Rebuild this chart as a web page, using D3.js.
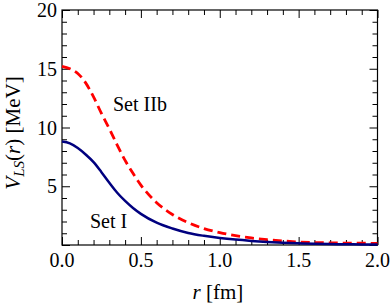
<!DOCTYPE html>
<html><head><meta charset="utf-8">
<script src="https://cdn.jsdelivr.net/npm/d3@7"></script>
<style>
body{margin:0;background:#fff}
svg{display:block;font-family:"Liberation Serif","Times New Roman",serif !important}
svg text, svg tspan{font-family:"Liberation Serif","Times New Roman",serif !important}
</style>
</head><body>
<svg id="chart" width="390" height="306" style="font-family:'Liberation Serif',serif"></svg>
<script>
const rSetI = [0,0.05,0.1,0.15,0.2,0.25,0.3,0.35,0.4,0.45,0.5,0.6,0.7,0.8,0.9,1.0,1.1,1.2,1.3,1.4,1.5,1.6,1.7,1.8,1.9,2.0];
const vSetI = [8.8,8.65,8.25,7.7,7.05,6.2,5.3,4.45,3.75,3.15,2.65,1.9,1.4,1.02,0.78,0.6,0.46,0.35,0.26,0.19,0.14,0.1,0.08,0.06,0.05,0.04];
const rSetIIb = [0,0.05,0.1,0.15,0.2,0.25,0.3,0.35,0.4,0.45,0.5,0.6,0.7,0.8,0.9,1.0,1.1,1.2,1.3,1.4,1.5,1.6,1.7,1.8,1.9,2.0];
const vSetIIb = [15.2,15.0,14.6,13.8,12.6,11.2,9.9,8.5,7.2,6.1,5.1,3.6,2.6,1.9,1.4,1.05,0.8,0.6,0.45,0.34,0.26,0.21,0.18,0.16,0.15,0.14];
const xTickLabels = ["0.0","0.5","1.0","1.5","2.0"];
const yTickLabels = ["5","10","15","20"];

const FONT = "Liberation Serif";
const W=390,H=306, L=62, T=10, R=377.5, B=245;
const svg=d3.select("#chart");
const x=d3.scaleLinear().domain([0,2]).range([L,R]);
const y=d3.scaleLinear().domain([0,20]).range([B,T]);

const minorX=d3.range(0,2.0001,0.1).map(v=>+v.toFixed(1));
const minorY=d3.range(0,20.0001,1);
function ticks(g, axisFn, scale, vals, len){
  g.call(axisFn(scale).tickValues(vals).tickSize(-len).tickFormat(""));
  g.attr("font-family",null).attr("font-size",null);
  g.select(".domain").remove();
  g.selectAll("text").remove();
  g.selectAll("line").attr("stroke","#000").attr("stroke-width",1);
}
const xMajor=xTickLabels.map(Number), yMajor=[0,5,10,15,20];
const mX=minorX.filter(v=>!xMajor.some(m=>Math.abs(m-v)<1e-6));
const mY=minorY.filter(v=>!yMajor.includes(v));
[[d3.axisBottom,x,`translate(0,${B})`],[d3.axisTop,x,`translate(0,${T})`]].forEach(([f,s,t])=>{
  ticks(svg.append("g").attr("transform",t),f,s,mX,5);
  ticks(svg.append("g").attr("transform",t),f,s,xMajor,8);
});
[[d3.axisLeft,y,`translate(${L},0)`],[d3.axisRight,y,`translate(${R},0)`]].forEach(([f,s,t])=>{
  ticks(svg.append("g").attr("transform",t),f,s,mY,5);
  ticks(svg.append("g").attr("transform",t),f,s,yMajor,8);
});
svg.append("rect").attr("x",L).attr("y",T).attr("width",R-L).attr("height",B-T)
  .attr("fill","none").attr("stroke","#000").attr("stroke-width",1.2);

const txt = sel => sel.attr("font-family",FONT).attr("fill","#000");
svg.append("g").selectAll("text").data(xTickLabels).join("text").call(txt)
  .attr("x",d=>x(+d)).attr("y",267).attr("text-anchor","middle").attr("font-size",20).text(d=>d);
svg.append("g").selectAll("text").data(yTickLabels).join("text").call(txt)
  .attr("x",57).attr("y",d=>y(+d)+7).attr("text-anchor","end").attr("font-size",20).text(d=>d);

const line=d3.line().x(d=>x(d[0])).y(d=>y(d[1])).curve(d3.curveMonotoneX);
svg.append("path").datum(rSetIIb.map((r,i)=>[r,vSetIIb[i]])).attr("d",line)
  .attr("fill","none").attr("stroke","#ff0000").attr("stroke-width",2.8).attr("stroke-dasharray","9,5");
svg.append("path").datum(rSetI.map((r,i)=>[r,vSetI[i]])).attr("d",line)
  .attr("fill","none").attr("stroke","#00007f").attr("stroke-width",2.5);

svg.append("text").call(txt).attr("x",113).attr("y",111).attr("font-size",20).text("Set IIb");
svg.append("text").call(txt).attr("x",90).attr("y",228).attr("font-size",20).text("Set I");

const xt=svg.append("text").call(txt).attr("x",218).attr("y",299).attr("text-anchor","middle").attr("font-size",21);
xt.append("tspan").attr("font-style","italic").text("r");
xt.append("tspan").text(" [fm]");
const yt=svg.append("text").call(txt).attr("transform","translate(20,133) rotate(-90)").attr("text-anchor","middle").attr("font-size",21);
yt.append("tspan").attr("font-style","italic").text("V");
yt.append("tspan").attr("font-style","italic").attr("font-size",15).attr("dy",4).text("LS");
yt.append("tspan").attr("dy",-4).text("(");
yt.append("tspan").attr("font-style","italic").text("r");
yt.append("tspan").text(") [MeV]");
</script>
</body></html>
